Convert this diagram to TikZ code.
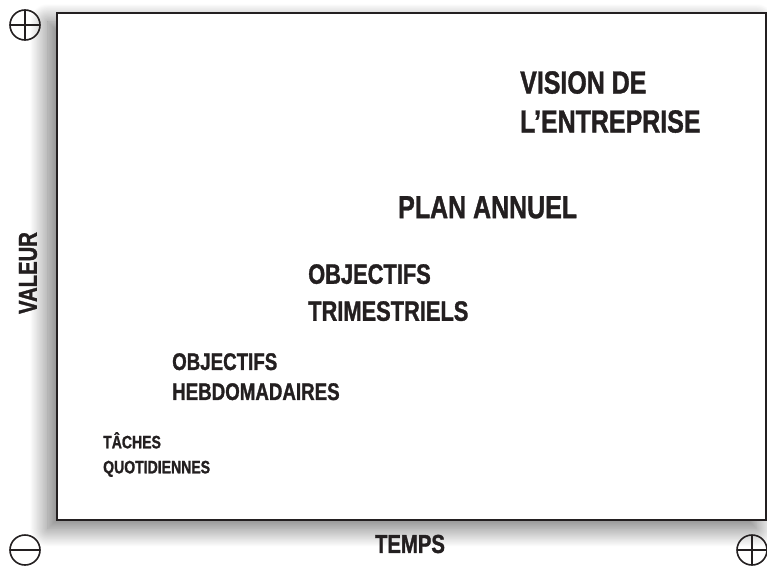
\documentclass[tikz,border=0pt]{standalone}
\usepackage{fontspec}
\newfontfamily\condsans[FakeStretch=0.78, BoldFeatures={FakeStretch=0.78, FakeBold=1.2}]{Liberation Sans}
\usetikzlibrary{shadows.blur}
\definecolor{ink}{HTML}{231F20}

\begin{document}
\begin{tikzpicture}[x=1pt, y=-1pt,
		lbl/.style={anchor=north west, inner sep=0pt, align=left, text=ink},
		sz/.style 2 args={font=\condsans\bfseries\fontsize{#1}{#2}\selectfont},
		axislbl/.style={inner sep=0pt, text=ink, font=\condsans\bfseries\fontsize{26}{30}\selectfont},
		sign/.style={circle, draw=ink, line width=1.6pt, minimum size=30pt, inner sep=0pt},
		pluscirc/.style={sign, path picture={
			\draw[ink, line width=1.6pt] (path picture bounding box.north) -- (path picture bounding box.south)
				(path picture bounding box.west) -- (path picture bounding box.east);}},
		minuscirc/.style={sign, path picture={
			\draw[ink, line width=1.6pt] (path picture bounding box.west) -- (path picture bounding box.east);}}]
		\useasboundingbox (0,0) rectangle (767,565);

		% frame with a soft shadow to the lower left
		\node [draw=ink, line width=1.6pt, fill=white, anchor=north west, inner sep=0pt,
			minimum width=709pt, minimum height=507pt,
			blur shadow={shadow xshift=-9pt, shadow yshift=-9pt, shadow blur radius=18pt,
				shadow blur steps=30, shadow opacity=55}]
			(frame) at (56,12) {};

		% levels, from the vision down to the daily tasks
		\node [lbl, sz={32}{39}] (vision) at (520,71) {VISION DE\\L’ENTREPRISE};
		\node [lbl, sz={32}{39}] (annual) at (398,196) {PLAN ANNUEL};
		\node [lbl, sz={28}{37}] (quarter) at (308,264) {OBJECTIFS\\TRIMESTRIELS};
		\node [lbl, sz={24}{30}] (week) at (172,353) {OBJECTIFS\\HEBDOMADAIRES};
		\node [lbl, sz={18}{25}] (daily) at (103,432) {TÂCHES\\QUOTIDIENNES};

		% axes
		\node [axislbl, rotate=90] (value) at (28,273) {VALEUR};
		\node [axislbl] (time) at (410,544) {TEMPS};

		\node [pluscirc] (topplus) at (25,25) {};
		\node [minuscirc] (origin) at (25,550) {};
		\node [pluscirc] (rightplus) at (752,550) {};
	\end{tikzpicture}
\end{document}
